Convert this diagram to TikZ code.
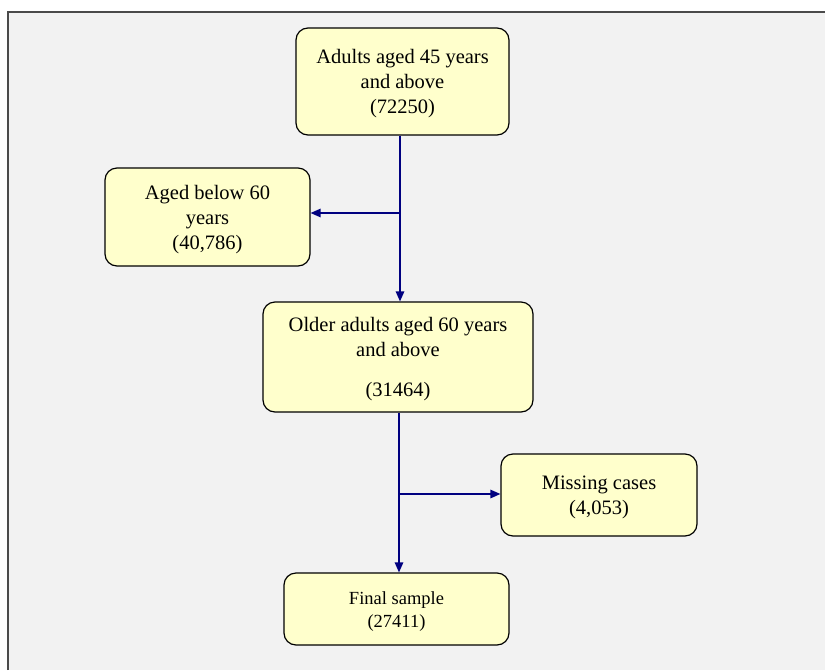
\documentclass[tikz,border=0pt]{standalone}
\usepackage{fontspec}
\setmainfont{Liberation Serif}
\usetikzlibrary{arrows.meta}
\definecolor{boxfill}{HTML}{FFFFCC}
\definecolor{bggray}{HTML}{F2F2F2}
\definecolor{framegray}{HTML}{4A4A4A}
\definecolor{arrnavy}{HTML}{000080}
\begin{document}
\begin{tikzpicture}[x=1pt,y=-1pt,
  flowbox/.style={draw=black, line width=1.2pt, fill=boxfill, rounded corners=12pt, inner sep=0pt},
  boxtext/.style={align=center, inner sep=0pt, yshift=-2.5pt, font=\fontsize{20.5}{25}\selectfont},
  smalltext/.style={boxtext, font=\fontsize{18.5}{23}\selectfont},
  arr/.style={draw=arrnavy, line width=1.3pt, -{Triangle[length=10pt,width=8.5pt]}}]
\useasboundingbox (0,0) rectangle (825,670);
\fill[white] (0,0) rectangle (825,670);
\fill[bggray] (8,12) rectangle (825,670);
\draw[framegray, line width=1.5pt] (8,670) -- (8,12) -- (825,12);

\node[flowbox, minimum width=213pt, minimum height=107pt,
  label={[boxtext]center:{Adults aged 45 years\\and above\\(72250)}}] (b1) at (402.5,81.5) {};
\node[flowbox, minimum width=205pt, minimum height=98pt,
  label={[boxtext]center:{Aged below 60\\years\\(40,786)}}] (b2) at (207.5,217) {};
\node[flowbox, minimum width=270pt, minimum height=110pt,
  label={[boxtext]center:{Older adults aged 60 years\\and above\\[15pt](31464)}}] (b3) at (398,357) {};
\node[flowbox, minimum width=196pt, minimum height=82pt,
  label={[boxtext]center:{Missing cases\\(4,053)}}] (b4) at (599,495) {};
\node[flowbox, minimum width=225pt, minimum height=72pt,
  label={[smalltext]center:{Final sample\\(27411)}}] (b5) at (396.5,609) {};

\coordinate (j1) at (400,213);
\coordinate (j2) at (399,494);

\draw[arr] (b1.south -| j1) -- (b3.north -| j1);
\draw[arr] (j1) -- (b2.east |- j1);
\draw[arr] (b3.south -| j2) -- (b5.north -| j2);
\draw[arr] (j2) -- (b4.west |- j2);
\end{tikzpicture}
\end{document}
